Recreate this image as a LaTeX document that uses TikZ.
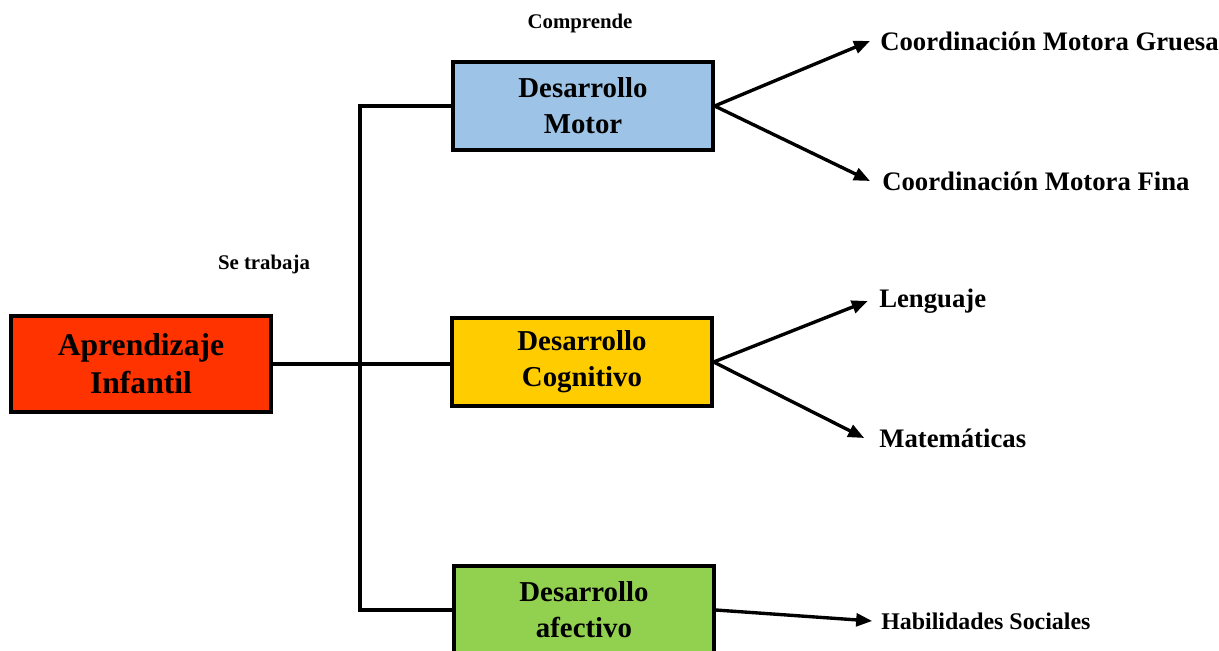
\documentclass[tikz,border=0pt]{standalone}
\usepackage{fontspec}
\setmainfont{Liberation Serif}
\usetikzlibrary{arrows.meta,positioning}
\definecolor{rojoA}{RGB}{255,51,0}
\definecolor{azulM}{RGB}{157,195,230}
\definecolor{amarC}{RGB}{255,204,0}
\definecolor{verdeF}{RGB}{146,208,80}
\tikzset{
  caja/.style={rectangle, draw=black, line width=2.3pt, fill=#1, align=center,
               font=\fontsize{20.5}{25.5}\selectfont\bfseries,
               minimum width=6.5cm, minimum height=2.2cm, inner sep=0pt},
  linea/.style={line width=2.4pt, draw=black},
  flecha/.style={-{Triangle[length=4mm,width=3.2mm]}, line width=2.4pt, draw=black},
  etiq/.style={anchor=west, inner sep=0pt, font=\fontsize{19}{22}\selectfont\bfseries},
  nota/.style={inner sep=0pt, font=\fontsize{14.8}{18}\selectfont\bfseries},
}

\begin{document}
\begin{tikzpicture}[x=0.025cm, y=-0.025cm]
  \useasboundingbox (0,0) rectangle (1219,651);
  % cajas
  \node[caja=rojoA, minimum height=2.4cm, font=\fontsize{22.5}{27}\selectfont\bfseries] (apr) at (141,364)
    {Aprendizaje\\Infantil};
  \node[caja=azulM] (motor) at (583,106) {Desarrollo\\Motor};
  \node[caja=amarC] (cogn) at (582,362) {Desarrollo\\Cognitivo};
  \node[caja=verdeF] (afec) at (584,610) {Desarrollo\\afectivo};
  \node[nota] (compr) at (580,23) {Comprende};
  \node[nota] (setr) at (264,264) {Se trabaja};
  % etiquetas
  \node[etiq] (cmg) at (880,41) {Coordinación Motora Gruesa};
  \node[etiq] (cmf) at (882,181) {Coordinación Motora Fina};
  \node[etiq] (leng) at (879,301) {Lenguaje};
  \node[etiq] (mate) at (879,438) {Matemáticas};
  \node[etiq, font=\fontsize{17}{20}\selectfont\bfseries] (habs) at (881,621) {Habilidades Sociales};
  % conectores
  \coordinate (tronco) at (360,364);
  \draw[linea] (apr.east) -- (apr.east -| cogn.west);
  \draw[linea] (motor.west) -- (motor.west -| tronco) -- (afec.west -| tronco) -- (afec.west);
  \draw[flecha] (motor.east) -- ([xshift=-0.25cm]cmg.west);
  \draw[flecha] (motor.east) -- ([xshift=-0.3cm]cmf.west);
  \draw[flecha] (cogn.east) -- ([xshift=-0.28cm]leng.west);
  \draw[flecha] (cogn.east) -- ([xshift=-0.37cm]mate.west);
  \draw[flecha] (afec.east) -- ([xshift=-0.22cm]habs.west);
\end{tikzpicture}
\end{document}
